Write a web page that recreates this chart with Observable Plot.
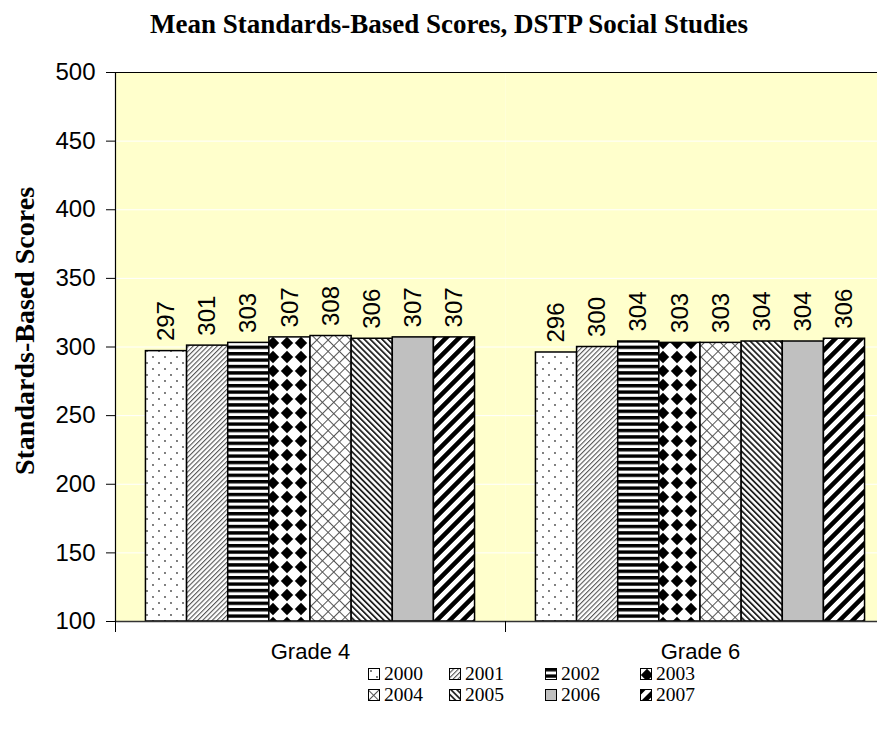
<!DOCTYPE html>
<html>
<head>
<meta charset="utf-8">
<script src="https://cdn.jsdelivr.net/npm/d3@7"></script>
<script src="https://cdn.jsdelivr.net/npm/@observablehq/plot@0.6"></script>
<style>
  html, body { margin: 0; padding: 0; background: white; }
  body { width: 877px; height: 743px; overflow: hidden; position: relative; }
  #chart { position: absolute; left: 0; top: 0; }
  #chart svg { overflow: hidden; }
  #title { position: absolute; left: 0; top: 11px; width: 898px; text-align: center;
    font: bold 27px/27px "Liberation Serif", "Times New Roman", serif; color: black; white-space: nowrap; }
  #legend { position: absolute; left: 368px; top: 663px; display: grid;
    grid-template-columns: 81px 96px 95px auto;
    font: 19.5px/21px "Liberation Serif", "Times New Roman", serif; color: black; }
  #legend .item { white-space: nowrap; height: 21px; display: flex; align-items: center; }
  #legend svg { width: 12px; height: 12px; margin-right: 4px; flex: none; }
</style>
</head>
<body>
<svg width="0" height="0" style="position:absolute">
  <defs>
    <pattern id="pat2000" width="12" height="12" patternUnits="userSpaceOnUse">
      <rect width="12" height="12" fill="white"/>
      <circle cx="3" cy="3" r="0.9" fill="#444"/>
      <circle cx="9" cy="9" r="0.9" fill="#444"/>
    </pattern>
    <pattern id="pat2001" width="3.4" height="10" patternUnits="userSpaceOnUse" patternTransform="rotate(45)">
      <rect width="3.4" height="10" fill="white"/>
      <rect width="1.1" height="10" fill="#555"/>
    </pattern>
    <pattern id="pat2002" width="10" height="6.4" patternUnits="userSpaceOnUse">
      <rect width="10" height="6.4" fill="white"/>
      <rect width="10" height="3.4" fill="black"/>
    </pattern>
    <pattern id="pat2003" width="14" height="14" patternUnits="userSpaceOnUse">
      <rect width="14" height="14" fill="white"/>
      <polygon points="7,0.8 13.2,7 7,13.2 0.8,7" fill="black"/>
    </pattern>
    <pattern id="pat2004" width="8" height="8" patternUnits="userSpaceOnUse" patternTransform="rotate(45)">
      <rect width="8" height="8" fill="white"/>
      <rect width="1" height="8" fill="#555"/>
      <rect width="8" height="1" fill="#555"/>
    </pattern>
    <pattern id="pat2005" width="4.2" height="10" patternUnits="userSpaceOnUse" patternTransform="rotate(-45)">
      <rect width="4.2" height="10" fill="white"/>
      <rect width="1.8" height="10" fill="#222"/>
    </pattern>
    <pattern id="pat2006" width="10" height="10" patternUnits="userSpaceOnUse">
      <rect width="10" height="10" fill="#C0C0C0"/>
    </pattern>
    <pattern id="pat2007" width="9.2" height="10" patternUnits="userSpaceOnUse" patternTransform="rotate(45)">
      <rect width="9.2" height="10" fill="white"/>
      <rect width="4.6" height="10" fill="black"/>
    </pattern>
  </defs>
</svg>
<div id="title"></div>
<div id="chart"></div>
<div id="legend"></div>
<script>
// ---- data ----
const titleText = "Mean Standards-Based Scores, DSTP Social Studies";
const yLabel = "Standards-Based Scores";
const grades = ["Grade 4", "Grade 6"];
const years = ["2000", "2001", "2002", "2003", "2004", "2005", "2006", "2007"];
const grade4Scores = [297, 301, 303, 307, 308, 306, 307, 307];
const grade6Scores = [296, 300, 304, 303, 303, 304, 304, 306];
const yTicks = [100, 150, 200, 250, 300, 350, 400, 450, 500];

const scoresByGrade = [grade4Scores, grade6Scores];
const rows = grades.flatMap((g, gi) =>
  years.map((yr, yi) => ({grade: g, year: yr, value: scoresByGrade[gi][yi]})));

// ---- layout ----
const SANS = "Liberation Sans, Arial, sans-serif";
const SERIF = "Liberation Serif, Times New Roman, serif";
const W = 877, H = 680, MT = 72, MB = 59, ML = 115, MR = -18;
const plotH = H - MT - MB;

document.getElementById("title").textContent = titleText;

const chart = Plot.plot({
  width: W,
  height: H,
  marginLeft: ML,
  marginRight: MR,
  marginTop: MT,
  marginBottom: MB,
  style: {background: "transparent", color: "black", overflow: "hidden"},
  fx: {domain: grades, padding: 0, label: null},
  x: {domain: years, paddingInner: 0, paddingOuter: 0.74, round: false, axis: null},
  y: {domain: [yTicks[0], yTicks[yTicks.length - 1]], label: null},
  color: {type: "identity"},
  marks: [
    Plot.frame({fill: "#FFFFCC"}),
    Plot.gridY(yTicks, {stroke: "white", strokeOpacity: 1, strokeWidth: 1}),
    Plot.barY(rows, {
      fx: "grade", x: "year", y1: yTicks[0], y2: "value",
      fill: d => `url(#pat${d.year})`, stroke: "black", strokeWidth: 1.5
    }),
    Plot.text(rows, {
      fx: "grade", x: "year", y: "value", text: d => String(d.value),
      rotate: -90, textAnchor: "start", dy: -10,
      fontSize: 24, fontFamily: SANS, fill: "black"
    }),
    Plot.ruleY([yTicks[0]], {stroke: "#333", strokeWidth: 1.5}),
    Plot.ruleY([yTicks[yTicks.length - 1]], {stroke: "black", strokeWidth: 1}),
    Plot.frame({anchor: "left", stroke: "black", strokeWidth: 1.2, fx: () => grades[0]}),
    Plot.frame({anchor: "left", stroke: "black", strokeWidth: 1, insetTop: plotH, insetBottom: -10}),
    Plot.axisY(yTicks, {tickSize: 9, tickPadding: 11, fontSize: 24, fontFamily: SANS, label: null, stroke: "black"}),
    Plot.axisFx({anchor: "bottom", tickSize: 0, tickPadding: 22, fontSize: 22, fontFamily: SANS, label: null}),
    Plot.text([yLabel], {
      fx: () => grades[0], frameAnchor: "left", text: d => d,
      rotate: -90, textAnchor: "middle", dx: -90, dy: -16,
      fontSize: 28, fontWeight: "bold", fontFamily: SERIF, fill: "black"
    })
  ]
});
document.getElementById("chart").appendChild(chart);

// ---- legend ----
const legend = d3.select("#legend");
years.forEach(yr => {
  const item = legend.append("div").attr("class", "item");
  const sw = item.append("svg").attr("viewBox", "0 0 12 12");
  sw.append("rect").attr("x", 0.5).attr("y", 0.5).attr("width", 11).attr("height", 11)
    .attr("fill", `url(#pat${yr})`).attr("stroke", "black").attr("stroke-width", 1);
  item.append("span").text(yr);
});
</script>
</body>
</html>
